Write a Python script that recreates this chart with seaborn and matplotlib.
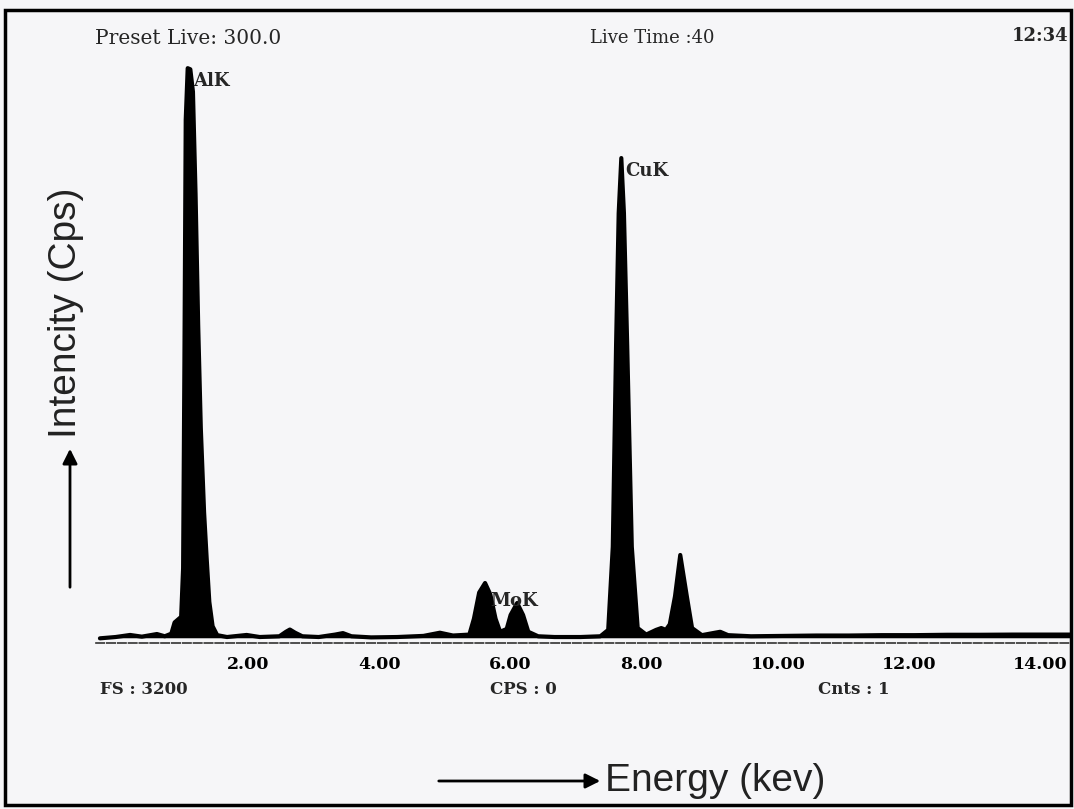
import matplotlib
matplotlib.use("Agg")
import matplotlib.pyplot as plt
import seaborn as sns
import pandas as pd
from matplotlib.patches import Rectangle, FancyArrowPatch

# spectrum (energy in keV, intensity in cps)
energia = [0.06, 0.30, 0.52, 0.70, 0.93, 1.05, 1.15, 1.20, 1.25, 1.30,
           1.33, 1.35, 1.37, 1.40, 1.44, 1.48, 1.52, 1.56, 1.60, 1.65,
           1.69, 1.73, 1.78, 1.85, 2.00, 2.30, 2.50, 2.80, 2.90, 2.96,
           3.04, 3.15, 3.40, 3.65, 3.77, 3.90, 4.20, 4.60, 5.00, 5.25,
           5.45, 5.70, 5.77, 5.85, 5.94, 6.02, 6.10, 6.17, 6.27, 6.33,
           6.43, 6.52, 6.60, 6.75, 7.00, 7.40, 7.70, 7.82, 7.89, 7.94,
           7.98, 8.02, 8.06, 8.11, 8.18, 8.27, 8.40, 8.55, 8.63, 8.70,
           8.76, 8.84, 8.92, 9.02, 9.10, 9.25, 9.45, 9.53, 9.65, 10.0,
           10.5, 11.0, 11.5, 12.0, 12.5, 13.0, 13.5, 14.0, 14.5, 14.9]
intensidade = [25, 32, 43, 34, 48, 36, 50, 110, 125, 140,
               400, 1500, 2800, 3076, 3070, 2950, 2400, 1700, 1150, 700,
               450, 220, 90, 42, 32, 43, 32, 36, 60, 72,
               55, 36, 32, 45, 53, 36, 30, 32, 38, 55,
               40, 45, 130, 270, 321, 260, 130, 60, 75, 150,
               214, 150, 60, 36, 32, 32, 36, 70, 515, 1590,
               2300, 2595, 2300, 1590, 515, 80, 45, 70, 80, 70,
               100, 250, 471, 250, 80, 42, 55, 60, 42, 36,
               38, 40, 40, 42, 42, 44, 44, 45, 45, 45]

ticks_kev = [2, 4, 6, 8, 10, 12, 14]
ticks_txt = ["2.00", "4.00", "6.00", "8.00", "10.00", "12.00", "14.00"]

picos = ["AlK", "MoK", "CuK"]
picos_kev = [1.42, 5.94, 8.02]
picos_cps = [3076, 321, 2595]
picos_offset = [(3, -9), (4, -13), (3, -9)]

df = pd.DataFrame({"energia": energia, "intensidade": intensidade})

sns.set_style("white")
plt.rcParams["font.family"] = ["DejaVu Serif"]

fig = plt.figure(figsize=(10.74, 8.09), dpi=100, facecolor="#f6f6f8")
ax = fig.add_axes([96 / 1074, 1 - 643 / 809, (1071 - 96) / 1074, (643 - 45) / 809])
ax.set_facecolor("none")

# espectro preenchido + contorno grosso
ax.fill_between(df["energia"], 28, df["intensidade"], color="black", lw=0)
sns.lineplot(data=df, x="energia", y="intensidade", color="black", lw=3, ax=ax)

ax.set_xlim(0, (1071 - 96) / 65.5)
ax.set_ylim(0, 3200)
ax.set_xlabel("")
ax.set_ylabel("")
ax.set_yticks([])
for s in ["left", "top", "right"]:
    ax.spines[s].set_visible(False)
ax.spines["bottom"].set_color("#333333")
ax.spines["bottom"].set_linestyle((0, (5, 1.5)))
ax.spines["bottom"].set_linewidth(1.2)
ax.set_xticks(ticks_kev)
ax.set_xticklabels(ticks_txt, ha="left", fontweight="bold", fontsize=12.5)
ax.tick_params(axis="x", direction="inout", length=7, width=1.5, pad=6, colors="black")

for nome, xk, yc, off in zip(picos, picos_kev, picos_cps, picos_offset):
    ax.annotate(nome, xy=(xk, yc), xytext=off, textcoords="offset points",
                ha="left", va="center", fontsize=13, fontweight="bold",
                annotation_clip=False)


def px(x, y):
    return x / 1074, 1 - y / 809


fig.text(*px(95, 39), "Preset Live: 300.0", fontsize=14.5, va="center")
fig.text(*px(590, 38), "Live Time :40", fontsize=13, va="center")
fig.text(*px(1012, 36), "12:34", fontsize=13, va="center", fontweight="bold")
fig.text(*px(100, 690), "FS : 3200", fontsize=12, va="center", fontweight="bold")
fig.text(*px(490, 690), "CPS : 0", fontsize=12, va="center", fontweight="bold")
fig.text(*px(818, 690), "Cnts : 1", fontsize=12, va="center", fontweight="bold")

fig.text(*px(66, 313), "Intencity (Cps)", rotation=90, ha="center", va="center",
         fontsize=28, family=["Liberation Sans", "DejaVu Sans"], color="#222222")
fig.text(*px(605, 781), "Energy (kev)", ha="left", va="center",
         fontsize=28, family=["Liberation Sans", "DejaVu Sans"], color="#222222")

seta = dict(arrowstyle="-|>", color="black", lw=2, mutation_scale=22)
fig.add_artist(FancyArrowPatch(px(70, 590), px(70, 446),
                               transform=fig.transFigure, **seta))
fig.add_artist(FancyArrowPatch(px(436, 781), px(603, 781),
                               transform=fig.transFigure, **seta))

fig.patches.append(Rectangle(px(5, 805), (1071 - 5) / 1074, (805 - 10) / 809,
                             transform=fig.transFigure, fill=False,
                             edgecolor="black", lw=2.5))

fig.savefig("out.png", dpi=100, facecolor=fig.get_facecolor())
